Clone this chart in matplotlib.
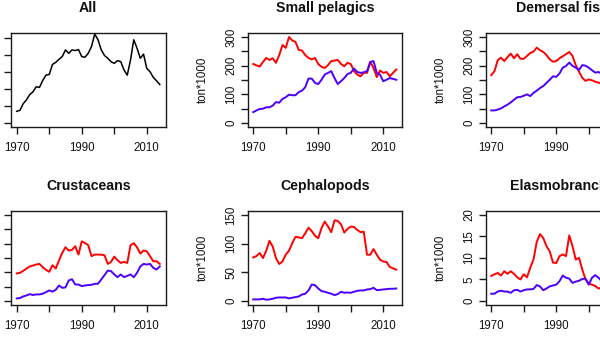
import matplotlib
matplotlib.use("Agg")
import matplotlib.pyplot as plt
import numpy as np

plt.rcParams["font.family"] = ["Liberation Sans", "DejaVu Sans"]

years = np.arange(1970, 2015)

# Landings, ton*1000
all_total = [71, 77, 116, 138, 169, 185, 215, 211, 252, 283,
             287, 346, 358, 376, 392, 431, 411, 431, 427, 433,
             392, 388, 411, 451, 524, 490, 431, 398, 382, 362,
             352, 368, 362, 313, 283, 372, 490, 441, 382, 406,
             323, 303, 270, 250, 228]

pel_red = [206, 201, 197, 213, 227, 220, 226, 210, 237, 272,
           262, 300, 288, 283, 255, 253, 237, 227, 222, 227,
           206, 196, 192, 202, 216, 218, 220, 206, 198, 210,
           206, 181, 169, 163, 175, 175, 213, 192, 160, 183,
           175, 178, 163, 175, 187]
pel_blue = [38, 44, 49, 50, 55, 55, 61, 73, 71, 84,
            90, 99, 97, 97, 108, 113, 125, 155, 155, 140,
            136, 151, 169, 175, 181, 157, 136, 146, 157, 171,
            175, 190, 178, 175, 177, 181, 213, 216, 175, 169,
            146, 151, 157, 154, 151]

dem_red = [167, 181, 219, 228, 216, 230, 242, 226, 240, 224,
           224, 234, 244, 249, 263, 254, 248, 237, 222, 214,
           216, 226, 233, 240, 248, 234, 202, 179, 158, 147,
           152, 149, 144, 141, 137, 135]
dem_blue = [44, 44, 47, 51, 58, 64, 72, 81, 90, 91,
            95, 100, 94, 105, 113, 122, 129, 140, 151, 163,
            161, 173, 193, 199, 211, 199, 193, 185, 202, 200,
            193, 184, 176, 178, 172, 170]

crus_red = [19.2, 19.6, 21.0, 22.6, 24.0, 24.7, 25.4, 25.8, 23.5, 21.7,
            20.3, 24.9, 22.6, 28.2, 33.5, 37.4, 35.1, 35.6, 38.1, 32.3,
            41.5, 40.4, 38.8, 31.2, 32.3, 32.3, 32.3, 31.8, 25.8, 27.2,
            30.9, 28.4, 26.5, 27.2, 26.5, 38.8, 40.2, 37.4, 33.0, 35.1,
            34.6, 31.2, 27.7, 27.7, 25.8]
crus_blue = [1.8, 2.1, 3.2, 3.9, 4.8, 4.2, 4.6, 4.6, 5.1, 6.2,
             7.4, 6.5, 7.8, 10.8, 9.2, 9.5, 14.3, 15.2, 11.5, 11.5,
             10.4, 10.8, 11.1, 11.3, 12.0, 12.0, 15.0, 18.0, 21.2, 20.8,
             18.5, 16.6, 18.5, 16.6, 17.5, 18.5, 16.6, 19.6, 24.0, 25.8,
             25.4, 25.8, 23.1, 21.9, 24.0]

ceph_red = [76, 78.5, 83.7, 75, 87.7, 105, 95, 75, 64.6, 69,
            81, 87.7, 101, 112, 111, 109.6, 118, 128, 122, 113.7,
            109.6, 127, 138.5, 130, 120, 140.8, 139.6, 133.9, 119.4, 125.8,
            129.8, 129.2, 124, 120, 121, 80.8, 80.8, 90.6, 80.8, 72,
            69, 68, 59.4, 57, 54.8]
ceph_blue = [2.9, 2.9, 2.9, 4.0, 2.3, 2.9, 4.0, 5.8, 6.3, 6.3,
             6.3, 4.6, 5.8, 6.9, 8.0, 11.5, 12.7, 18.5, 28.8, 27.7,
             21.9, 17.3, 16.2, 14.4, 12.7, 10.4, 12.1, 16.2, 14.4, 15.0,
             14.4, 16.2, 17.9, 18.5, 18.5, 20.2, 20.8, 23.1, 19.0, 19.6,
             20.2, 20.8, 21.4, 21.4, 21.9]

elas_red = [5.8, 6.2, 6.5, 5.9, 6.9, 6.3, 6.9, 6.3, 5.5, 5.0,
            6.2, 5.5, 7.7, 9.6, 13.7, 15.5, 14.6, 12.7, 11.5, 8.9,
            8.8, 10.4, 10.8, 10.4, 15.2, 12.7, 9.6, 10.0, 7.3, 5.0,
            4.0, 3.8, 3.5, 2.9, 3.1]
elas_blue = [1.7, 1.7, 2.2, 2.4, 2.2, 2.2, 1.9, 2.5, 2.6, 2.2,
             2.5, 2.7, 2.7, 2.8, 3.7, 3.4, 2.5, 2.9, 3.4, 3.6,
             3.8, 4.6, 5.9, 5.4, 5.2, 4.2, 4.5, 4.7, 5.1, 5.2,
             3.8, 5.4, 6.0, 5.4, 4.6, 4.2]

titles = ["All", "Small pelagics", "Demersal fish",
          "Crustaceans", "Cephalopods", "Elasmobranchs"]
xticks = [1970, 1980, 1990, 2000, 2010]
xticklabels = ["1970", "", "1990", "", "2010"]

RED = "#ff0000"
BLUE = "#4b00ff"

W, H = 600, 340
fig = plt.figure(figsize=(W / 100, H / 100), dpi=100)

box_w, box_h = 154.5, 93.5
col_left = [11, 247.5, 485.5]
row_top = [33, 211]
title_base = [12, 190]


def make_axes(col, row):
    left, top = col_left[col], row_top[row]
    ax = fig.add_axes([left / W, 1 - (top + box_h) / H, box_w / W, box_h / H])
    ax.set_xlim(1968.24, 2015.76)
    ax.set_xticks(xticks)
    ax.set_xticklabels(xticklabels)
    for s in ax.spines.values():
        s.set_linewidth(1.0)
        s.set_color("#1a1a1a")
    ax.tick_params(axis="both", length=5, width=1.0, color="#1a1a1a",
                   labelsize=8.3, labelcolor="#111111")
    ax.tick_params(axis="x", pad=6.5)
    ax.tick_params(axis="y", pad=2.5)
    fig.text((left + box_w / 2) / W, 1 - title_base[row] / H,
             titles[row * 3 + col], ha="center", va="baseline",
             fontsize=10.2, fontweight="bold", color="#111111")
    return ax


def y_axis(ax, ylim, ticks, labels, show_labels=True, col=0, row=0):
    ax.set_ylim(*ylim)
    ax.set_yticks(ticks)
    if show_labels:
        ax.set_yticklabels(labels, rotation=90, va="center")
        left, top = col_left[col], row_top[row]
        fig.text((left - 44.5) / W, 1 - (top + box_h / 2) / H, "ton*1000",
                 rotation=90, ha="center", va="center", fontsize=8.3,
                 color="#111111")
    else:
        ax.tick_params(axis="y", labelleft=False)


# All
ax = make_axes(0, 0)
ax.plot(years, all_total, color="black", lw=1.1)
y_axis(ax, (-18, 530), [0, 100, 200, 300, 400, 500], None, show_labels=False)

# Small pelagics
ax = make_axes(1, 0)
ax.plot(years, pel_red, color=RED, lw=1.4)
ax.plot(years, pel_blue, color=BLUE, lw=1.4)
y_axis(ax, (-12, 314), [0, 50, 100, 150, 200, 250, 300],
       ["0", "", "100", "", "200", "", "300"], col=1, row=0)

# Demersal fish
ax = make_axes(2, 0)
ax.plot(years[:len(dem_red)], dem_red, color=RED, lw=1.4)
ax.plot(years[:len(dem_blue)], dem_blue, color=BLUE, lw=1.4)
y_axis(ax, (-12, 314), [0, 50, 100, 150, 200, 250, 300],
       ["0", "", "100", "", "200", "", "300"], col=2, row=0)

# Crustaceans
ax = make_axes(0, 1)
ax.plot(years, crus_red, color=RED, lw=1.4)
ax.plot(years, crus_blue, color=BLUE, lw=1.4)
y_axis(ax, (-2.4, 62.6), [0, 10, 20, 30, 40, 50, 60], None, show_labels=False)

# Cephalopods
ax = make_axes(1, 1)
ax.plot(years, ceph_red, color=RED, lw=1.4)
ax.plot(years, ceph_blue, color=BLUE, lw=1.4)
y_axis(ax, (-6, 157), [0, 50, 100, 150], ["0", "50", "100", "150"], col=1, row=1)

# Elasmobranchs
ax = make_axes(2, 1)
ax.plot(years[:len(elas_red)], elas_red, color=RED, lw=1.4)
ax.plot(years[:len(elas_blue)], elas_blue, color=BLUE, lw=1.4)
y_axis(ax, (-0.8, 20.85), [0, 5, 10, 15, 20], ["0", "5", "10", "15", "20"], col=2, row=1)

fig.savefig("out.png", dpi=100, facecolor="white")
